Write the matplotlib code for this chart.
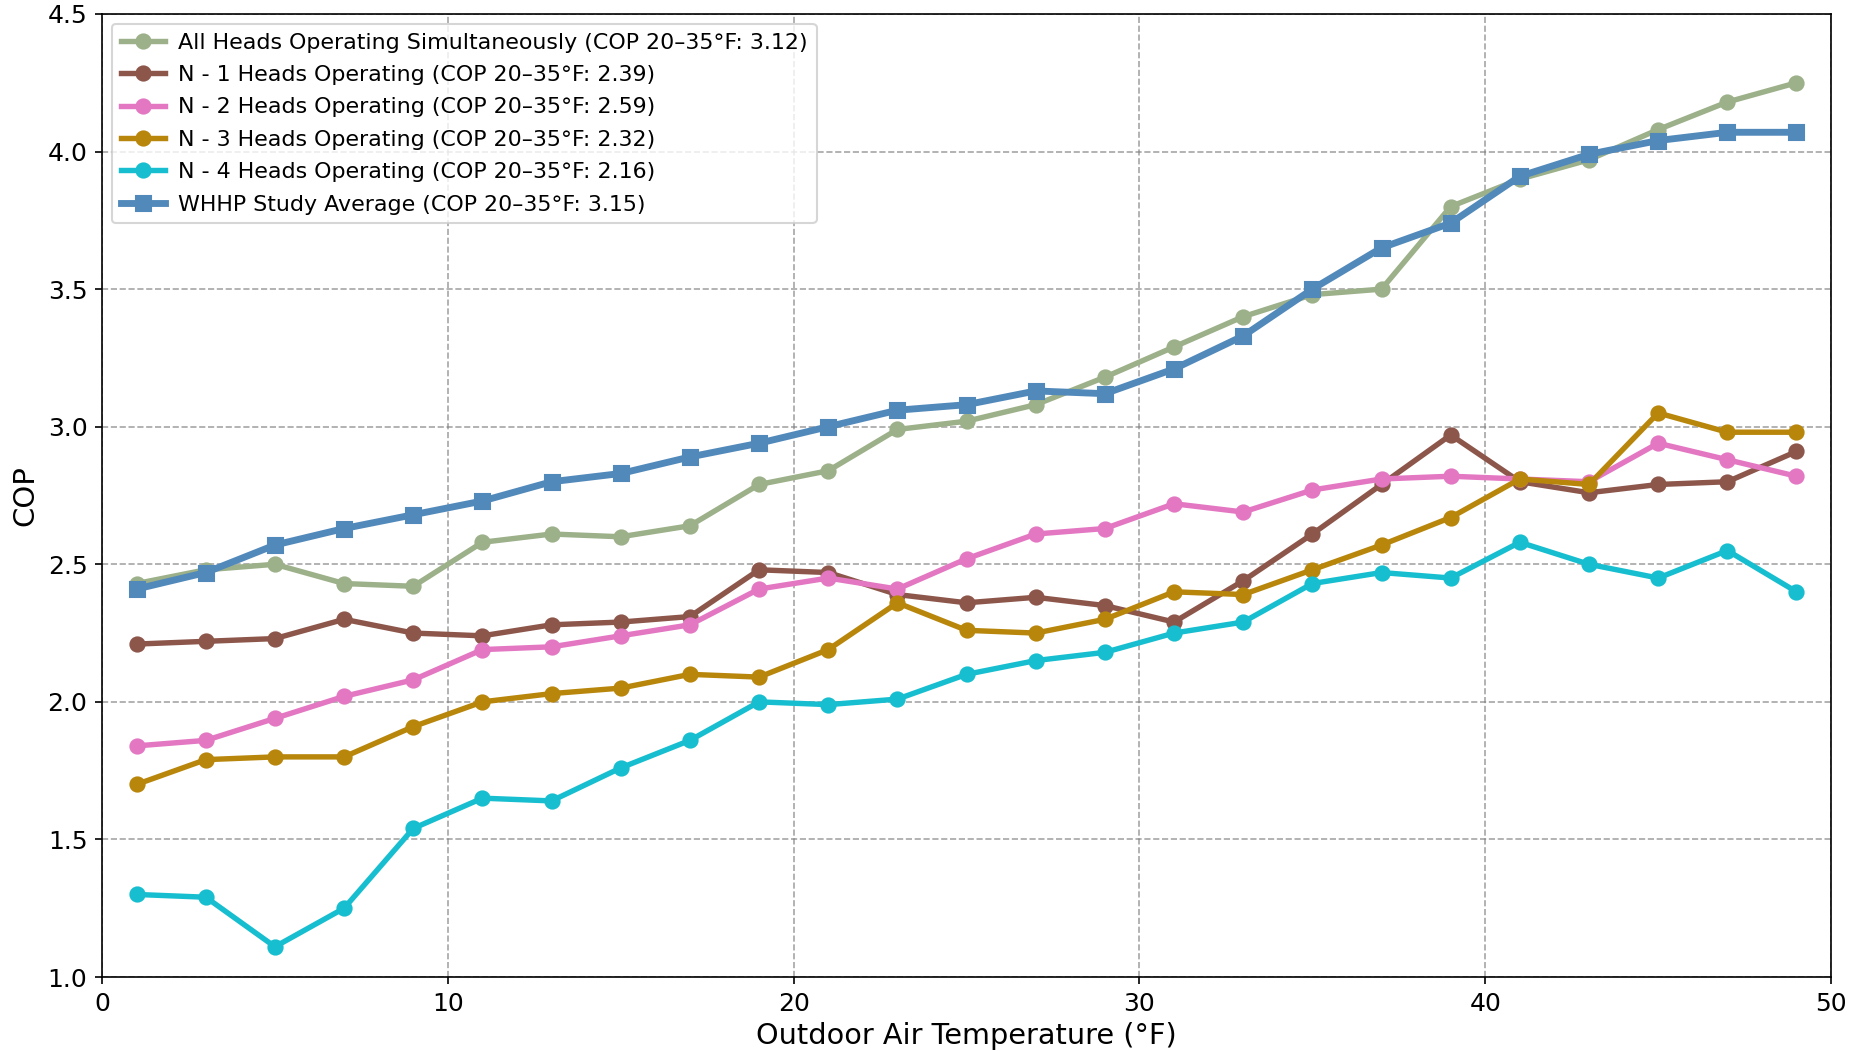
import numpy as np
import matplotlib
matplotlib.use("Agg")
import matplotlib.pyplot as plt

# Outdoor air temperature bins (°F)
temps = np.arange(1, 50, 2)

cop_all = [2.43, 2.48, 2.50, 2.43, 2.42, 2.58, 2.61, 2.60, 2.64, 2.79, 2.84, 2.99, 3.02,
           3.08, 3.18, 3.29, 3.40, 3.48, 3.50, 3.80, 3.90, 3.97, 4.08, 4.18, 4.25]
cop_n1 = [2.21, 2.22, 2.23, 2.30, 2.25, 2.24, 2.28, 2.29, 2.31, 2.48, 2.47, 2.39, 2.36,
          2.38, 2.35, 2.29, 2.44, 2.61, 2.79, 2.97, 2.80, 2.76, 2.79, 2.80, 2.91]
cop_n2 = [1.84, 1.86, 1.94, 2.02, 2.08, 2.19, 2.20, 2.24, 2.28, 2.41, 2.45, 2.41, 2.52,
          2.61, 2.63, 2.72, 2.69, 2.77, 2.81, 2.82, 2.81, 2.80, 2.94, 2.88, 2.82]
cop_n3 = [1.70, 1.79, 1.80, 1.80, 1.91, 2.00, 2.03, 2.05, 2.10, 2.09, 2.19, 2.36, 2.26,
          2.25, 2.30, 2.40, 2.39, 2.48, 2.57, 2.67, 2.81, 2.79, 3.05, 2.98, 2.98]
cop_n4 = [1.30, 1.29, 1.11, 1.25, 1.54, 1.65, 1.64, 1.76, 1.86, 2.00, 1.99, 2.01, 2.10,
          2.15, 2.18, 2.25, 2.29, 2.43, 2.47, 2.45, 2.58, 2.50, 2.45, 2.55, 2.40]
cop_whhp = [2.41, 2.47, 2.57, 2.63, 2.68, 2.73, 2.80, 2.83, 2.89, 2.94, 3.00, 3.06, 3.08,
            3.13, 3.12, 3.21, 3.33, 3.50, 3.65, 3.74, 3.91, 3.99, 4.04, 4.07, 4.07]

labels = [
    "All Heads Operating Simultaneously (COP 20\u201335\u00b0F: 3.12)",
    "N - 1 Heads Operating (COP 20\u201335\u00b0F: 2.39)",
    "N - 2 Heads Operating (COP 20\u201335\u00b0F: 2.59)",
    "N - 3 Heads Operating (COP 20\u201335\u00b0F: 2.32)",
    "N - 4 Heads Operating (COP 20\u201335\u00b0F: 2.16)",
    "WHHP Study Average (COP 20\u201335\u00b0F: 3.15)",
]
colors = ["#9cb089", "#8c564b", "#e377c2", "#b8860b", "#17becf", "#5289bb"]

fig = plt.figure(figsize=(1852 / 150, 1051 / 150), dpi=150)
ax = fig.add_axes([0.0551, 0.0704, 0.9336, 0.9163])

series = [cop_all, cop_n1, cop_n2, cop_n3, cop_n4]
for vals, lab, col in zip(series, labels[:5], colors[:5]):
    ax.plot(temps, vals, marker="o", color=col, linewidth=2.6, markersize=6.8,
            label=lab, zorder=3)
ax.plot(temps, cop_whhp, marker="s", color=colors[5], linewidth=3.3, markersize=7.2,
        label=labels[5], zorder=4)

ax.set_xlim(0, 50)
ax.set_ylim(1.0, 4.5)
ax.set_xlabel("Outdoor Air Temperature (\u00b0F)", fontsize=13.8, labelpad=3)
ax.set_ylabel("COP", fontsize=14)
ax.tick_params(labelsize=12)
ax.grid(True, linestyle="--", color="gray", alpha=0.7, linewidth=0.8)
ax.legend(loc="upper left", fontsize=10.6, handletextpad=0.6, labelspacing=0.56,
          borderaxespad=0.45)

fig.savefig("out.png", dpi=150)
